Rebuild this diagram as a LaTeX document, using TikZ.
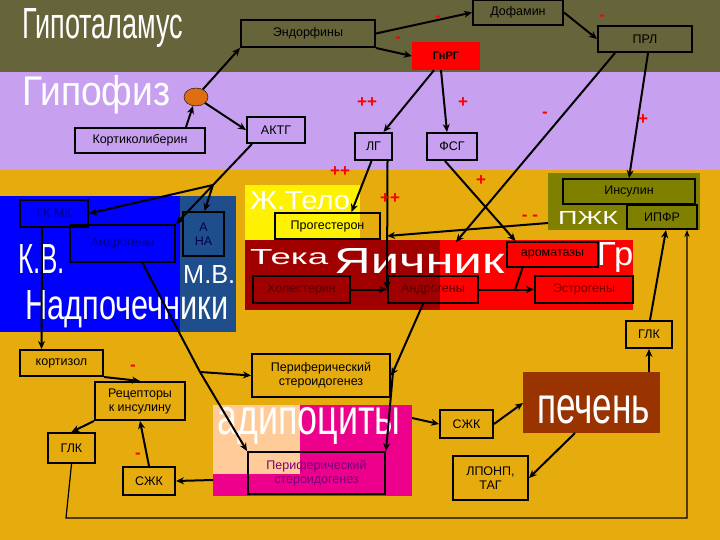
\documentclass[tikz,border=0pt]{standalone}
\usepackage{fontspec}
\setmainfont{Liberation Sans}
\usetikzlibrary{arrows.meta,shapes.geometric,calc}
\newcommand{\fitt}[3]{\resizebox{#1}{#2}{#3}}
\begin{document}
\begin{tikzpicture}[x=1pt,y=-1pt,
  bx/.style={draw=black,line width=2pt,font=\fontsize{12.5}{14}\selectfont,inner sep=0pt,align=center},
  big/.style={text=white,inner sep=0pt,anchor=west},
  sg/.style={text=red,font=\fontsize{17}{17}\selectfont\bfseries,inner sep=0pt},
  ar/.style={line width=2pt,-{Stealth[length=8pt,width=7pt]}},
  ln/.style={line width=2pt}]
\useasboundingbox (0,0) rectangle (720,540);
\fill[fill={rgb,255:red,101;green,100;blue,58}] (0,0) rectangle (720,72);
\fill[fill={rgb,255:red,200;green,160;blue,240}] (0,72) rectangle (720,170);
\fill[fill={rgb,255:red,230;green,172;blue,14}] (0,170) rectangle (720,540);
% regions
\fill[blue] (0,196) rectangle (180,332);
\fill[fill={rgb,255:red,31;green,78;blue,140}] (180,196) rectangle (236,332);
\fill[yellow] (245,185) rectangle (360,240);
\fill[fill={rgb,255:red,160;green,0;blue,0}] (245,240) rectangle (440,310);
\fill[red] (440,240) rectangle (633,310);
\fill[fill={rgb,255:red,128;green,128;blue,0}] (548,173) rectangle (700,230);
\fill[fill={rgb,255:red,153;green,51;blue,0}] (523,372) rectangle (660,433);
\fill[fill={rgb,255:red,255;green,204;blue,153}] (213,405) rectangle (300,474);
\fill[magenta] (300,405) rectangle (412,496);
\fill[magenta] (213,474) rectangle (300,496);
% region titles
\node[big] (t1) at (22,28) {\fitt{161pt}{30pt}{Гипоталамус}};
\node[big] (t2) at (22,95) {\fitt{148pt}{30pt}{Гипофиз}};
\node[big] (t3) at (18,259) {\fitt{47pt}{29pt}{К.В.}};
\node[big] (t4) at (25,309) {\fitt{203pt}{29pt}{Надпочечники}};
\node[big] (t5) at (183,274) {\fitt{52pt}{18pt}{М.В.}};
\node[big] (t6) at (250,201) {\fitt{100pt}{18pt}{Ж.Тело}};
\node[big] (t7) at (250,257) {\fitt{78pt}{15pt}{Тека}};
\node[big] (t8) at (334,261) {\fitt{170pt}{25pt}{Яичник}};
\node[big] (t9) at (597,257) {\fitt{36pt}{23pt}{Гр}};
\node[big] (t10) at (558,218) {\fitt{60pt}{13pt}{ПЖК}};
\node[big] (t11) at (537,410) {\fitt{113pt}{28pt}{печень}};
\node[big] (t12) at (217,426) {\fitt{183pt}{27pt}{адипоциты}};
% boxes
\node[bx,minimum width=134pt,minimum height=27pt] (endo) at (308,33.5) {Эндорфины};
\node[bx,minimum width=90pt,minimum height=25pt] (dofa) at (518,12.5) {Дофамин};
\node[bx,minimum width=94pt,minimum height=26pt] (prl) at (645,39) {ПРЛ};
\node[fill=red,minimum width=68pt,minimum height=28pt,inner sep=0pt,font=\fontsize{11}{12}\selectfont\bfseries] (gnrg) at (446,56) {ГнРГ};
\node[draw=black,fill={rgb,255:red,220;green,110;blue,20},ellipse,minimum width=24pt,minimum height=18pt,inner sep=0pt] (ell) at (196,97) {};
\node[bx,minimum width=58pt,minimum height=26pt] (aktg) at (276,130) {АКТГ};
\node[bx,minimum width=130pt,minimum height=25pt] (kort) at (140,140.5) {Кортиколиберин};
\node[bx,minimum width=37pt,minimum height=27pt] (lg) at (373.5,146.5) {ЛГ};
\node[bx,minimum width=50pt,minimum height=27pt] (fsg) at (452,146.5) {ФСГ};
\node[bx,minimum width=132pt,minimum height=25pt] (ins) at (629,191.5) {Инсулин};
\node[bx,minimum width=70pt,minimum height=24pt] (ipfr) at (662,217) {ИПФР};
\node[bx,minimum width=68pt,minimum height=27pt,text={rgb,255:red,0;green,0;blue,150}] (gkmk) at (54,213.5) {ГК МК};
\node[bx,minimum width=105pt,minimum height=37pt,text={rgb,255:red,0;green,0;blue,150}] (andA) at (122.5,243.5) {Андрогены};
\node[bx,minimum width=41pt,minimum height=44pt,text={rgb,255:red,0;green,0;blue,80}] (ana) at (203.5,234) {А\\НА};
\node[bx,minimum width=105pt,minimum height=26pt] (prog) at (327.5,226) {Прогестерон};
\node[bx,minimum width=91pt,minimum height=25pt] (arom) at (552.5,254.5) {ароматазы};
\node[bx,minimum width=97pt,minimum height=27pt,text={rgb,255:red,90;green,0;blue,0}] (hol) at (301.5,289.5) {Холестерин};
\node[bx,minimum width=90pt,minimum height=27pt,text={rgb,255:red,90;green,0;blue,0}] (andO) at (433,289.5) {Андрогены};
\node[bx,minimum width=98pt,minimum height=27pt,text={rgb,255:red,110;green,0;blue,0}] (estr) at (584,289.5) {Эстрогены};
\node[bx,minimum width=46pt,minimum height=27pt] (glkR) at (649,334.5) {ГЛК};
\node[bx,minimum width=83pt,minimum height=26pt] (kortiz) at (61.5,363) {кортизол};
\node[bx,minimum width=90pt,minimum height=38pt] (rec) at (140,401) {Рецепторы\\к инсулину};
\node[bx,minimum width=47pt,minimum height=30pt] (glkL) at (71.5,448) {ГЛК};
\node[bx,minimum width=52pt,minimum height=28pt] (szkL) at (149,481) {СЖК};
\node[bx,minimum width=138pt,minimum height=43pt] (per1) at (321,375.5) {Периферический\\стероидогенез};
\node[bx,minimum width=137pt,minimum height=42pt,text={rgb,255:red,120;green,0;blue,120}] (per2) at (316.5,473) {Периферический\\стероидогенез};
\node[bx,minimum width=53pt,minimum height=28pt] (szkM) at (466.5,424) {СЖК};
\node[bx,minimum width=75pt,minimum height=44pt] (lpo) at (490.5,478) {ЛПОНП,\\ТАГ};
% coordinates
\coordinate (hub) at (213,185);
\coordinate (hubA) at (200,372);
\coordinate (hubO) at (393,372);
\coordinate (mid) at (515,290);
\coordinate (ovp) at (456,242);
\coordinate (ovq) at (387,236);
\coordinate (pz) at (548,223);
\coordinate (ad1) at (213,480);
\coordinate (ad2) at (412,418);
\coordinate (lv1) at (523,403);
\coordinate (lv2) at (575,433);
\coordinate (lv3) at (649,372);
\coordinate (c1) at (66,518);
\coordinate (c2) at (687,518);
% connectors
\draw[ar] ($(kort.north east)+(-20,0)$) -- (ell);
\draw[ar] (ell) -- (endo.south west);
\draw[ar] (ell) -- (aktg.west);
\draw[ar] (endo.east) -- (dofa.west);
\draw[ar] (endo.south east) -- (gnrg.west);
\draw[ar] (dofa.east) -- (prl.west);
\draw[ar] ($(gnrg.south)+(-12,0)$) -- ($(lg.north)+(10,0)$);
\draw[ar] ($(gnrg.south)+(-5,0)$) -- ($(fsg.north)+(-5,0)$);
\draw[ar] ($(prl.south)+(-30,0)$) -- (ovp);
\draw[ar] ($(prl.south)+(3,0)$) -- (ins.north);
\draw[ln] ($(aktg.south)+(-24,0)$) -- (hub);
\draw[ar] (hub) -- (gkmk.east);
\draw[ar] (hub) -- (andA.north east);
\draw[ar] (hub) -- ($(ana.north)+(1,0)$);
\draw[ar] ($(lg.south)+(-2,0)$) -- ($(prog.north)+(24,0)$);
\draw[ar] ($(lg.south)+(14,0)$) -- (andO.west);
\draw[ar] ($(fsg.south)+(-7,0)$) -- ($(arom.north)+(-37,0)$);
\draw[ar] (hol) -- (andO);
\draw[ar] (andO) -- (estr);
\draw[ln] ($(arom.south)+(-30,0)$) -- (mid);
\draw[ar] (pz) -- (ovq);
\draw[ar] ($(gkmk.south)+(-12,0)$) -- ($(kortiz.north)+(-20,0)$);
\draw[ln] ($(andA.south)+(20,0)$) -- (hubA);
\draw[ar] (hubA) -- (per2.north west);
\draw[ar] (hubA) -- (per1.west);
\draw[ln] ($(andO.south)+(-10,0)$) -- (hubO);
\draw[ar] (hubO) -- (per1.east);
\draw[ar] (hubO) -- (per2.north east);
\draw[ar] (kortiz.south east) -- (rec.north);
\draw[ar] (rec.south west) -- (glkL.north);
\draw[ar] (szkL.north) -- (rec.south);
\draw[ar] (ad1) -- (szkL.east);
\draw[ar] (ad2) -- (szkM.west);
\draw[ar] (szkM.east) -- (lv1);
\draw[ar] (lv2) -- (lpo.east);
\draw[ar] (lv3) -- (glkR.south);
\draw[ar] ($(glkR.north)+(1,0)$) -- ($(ipfr.south)+(4,0)$);
\draw[line width=1.2pt,-{Stealth[length=7pt]}] (glkL.south) -- (c1) -- (c2) -- ($(ipfr.south)+(25,0)$);
% signs
\node[sg] (s1) at (438,19) {-};
\node[sg] (s2) at (398,40) {-};
\node[sg] (s3) at (602,18) {-};
\node[sg] (s4) at (367,103) {++};
\node[sg] (s5) at (463,103) {+};
\node[sg] (s6) at (545,115) {-};
\node[sg] (s7) at (643,120) {+};
\node[sg] (s8) at (340,172) {++};
\node[sg] (s9) at (390,199) {++};
\node[sg] (s10) at (481,181) {+};
\node[sg] (s11) at (530,218) {- -};
\node[sg] (s12) at (133,368) {-};
\node[sg] (s13) at (138,456) {-};
\end{tikzpicture}
\end{document}
